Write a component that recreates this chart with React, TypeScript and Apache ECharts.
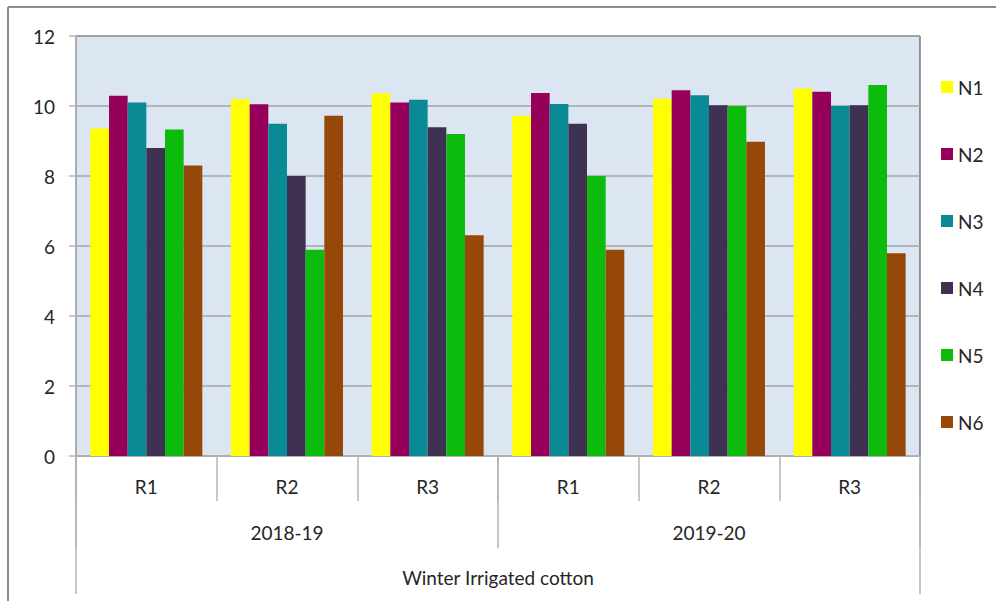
import React, { useEffect, useRef } from "react";
import * as echarts from "echarts";

const rounds = ["R1", "R2", "R3", "R1", "R2", "R3"];
const years = ["2018-19", "2019-20"];
const topLevel = ["Winter Irrigated cotton"];
const seriesNames = ["N1", "N2", "N3", "N4", "N5", "N6"];
const colors = ["#ffff00", "#97005a", "#0a8a94", "#3e3152", "#0cbb0b", "#964808"];

const n1 = [9.36, 10.2, 10.36, 9.72, 10.21, 10.5];
const n2 = [10.29, 10.05, 10.1, 10.37, 10.45, 10.41];
const n3 = [10.1, 9.49, 10.18, 10.06, 10.31, 10.0];
const n4 = [8.8, 8.0, 9.39, 9.49, 10.02, 10.02];
const n5 = [9.33, 5.89, 9.2, 8.0, 10.0, 10.6];
const n6 = [8.3, 9.72, 6.31, 5.89, 8.98, 5.79];
const values = [n1, n2, n3, n4, n5, n6];

const FONT = "Lato";
const FS = 19;
const TEXT = "#262626";
const SEP = "#b4b4b4";

export default function App() {
  const ref = useRef<HTMLDivElement>(null);
  useEffect(() => {
    if (!ref.current) return;
    const chart = echarts.init(ref.current, null, { renderer: "svg" });
    chart.setOption({
      animation: false,
      backgroundColor: "#ffffff",
      textStyle: { fontFamily: FONT },
      grid: {
        left: 76,
        right: 76,
        top: 36,
        bottom: 145,
        show: true,
        backgroundColor: "#dce6f2",
        borderColor: "#3a3a3a",
        borderWidth: 1,
      },
      legend: {
        orient: "vertical",
        left: 941,
        top: 77,
        padding: 0,
        itemWidth: 12,
        itemHeight: 12,
        itemGap: 47,
        icon: "rect",
        data: seriesNames,
        textStyle: { fontFamily: FONT, fontSize: FS, color: TEXT, lineHeight: 20, padding: [0, 0, 0, 0] },
      },
      xAxis: [
        {
          type: "category",
          data: rounds,
          position: "bottom",
          axisLine: { show: true, lineStyle: { color: SEP, width: 1.5 } },
          axisTick: { show: true, length: 45, interval: 0, lineStyle: { color: SEP, width: 1.5 } },
          axisLabel: { interval: 0, margin: 21, fontSize: FS, color: TEXT, fontFamily: FONT },
        },
        {
          type: "category",
          data: years,
          position: "bottom",
          axisLine: { show: false },
          axisTick: { show: true, length: 92, interval: 0, lineStyle: { color: SEP, width: 1.5 } },
          axisLabel: { interval: 0, margin: 67, fontSize: FS, color: TEXT, fontFamily: FONT },
        },
        {
          type: "category",
          data: topLevel,
          position: "bottom",
          axisLine: { show: false },
          axisTick: { show: true, length: 138, interval: 0, lineStyle: { color: SEP, width: 1.5 } },
          axisLabel: { interval: 0, margin: 112, fontSize: FS, color: TEXT, fontFamily: FONT },
        },
      ],
      yAxis: {
        type: "value",
        min: 0,
        max: 12,
        interval: 2,
        axisLine: { show: true, lineStyle: { color: SEP, width: 1.5 } },
        axisTick: { show: true, length: 7, lineStyle: { color: SEP, width: 1.5 } },
        axisLabel: { margin: 21, fontSize: FS, color: TEXT, fontFamily: FONT },
        splitLine: { show: true, lineStyle: { color: "#a6a6a6", width: 1.5 } },
      },
      series: seriesNames.map((name, i) => ({
        name,
        type: "bar",
        xAxisIndex: 0,
        data: values[i],
        barGap: "0%",
        barCategoryGap: "20.4%",
        itemStyle: { color: colors[i] },
      })),
      graphic: [
        {
          type: "line",
          shape: { x1: 8, y1: 7, x2: 996, y2: 7 },
          style: { stroke: "#8c8c8c", lineWidth: 2 },
        },
        {
          type: "line",
          shape: { x1: 8, y1: 7, x2: 8, y2: 601 },
          style: { stroke: "#8c8c8c", lineWidth: 2 },
        },
      ],
    });
    return () => chart.dispose();
  }, []);
  return (
    <div
      ref={ref}
      style={{ position: "absolute", left: 0, top: 0, width: 996, height: 601 }}
    />
  );
}
